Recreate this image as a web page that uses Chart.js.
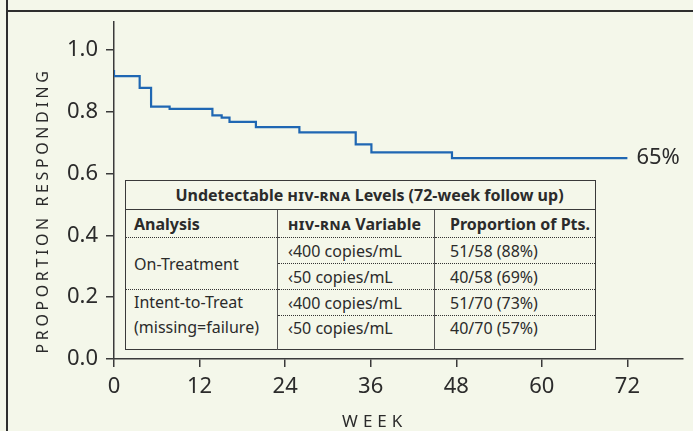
<!DOCTYPE html>
<html>
<head>
<meta charset="utf-8">
<script src="https://cdn.jsdelivr.net/npm/chart.js@4.4.0/dist/chart.umd.min.js"></script>
<style>
  body { margin: 0; background: #f4f7ea; }
  .wrap { position: relative; width: 693px; height: 431px; background: #f4f7ea; overflow: hidden;
          font-family: 'Noto Sans', sans-serif; color: #2b2b2b; }
  .frame-left { position: absolute; left: 6px; top: 0; width: 2px; height: 431px; background: #2e2e2e; }
  .frame-top { position: absolute; left: 6px; top: 10px; width: 687px; height: 2px; background: #2e2e2e; }
  canvas { position: absolute; left: 0; top: 0; }
  table.info { position: absolute; left: 125px; top: 180px; width: 471px; border-collapse: collapse;
               font-size: 16px; color: #2b2b2b; border: 1.5px solid #3a3a3a; background: #f4f7ea; }
  table.info td, table.info th { padding: 0; white-space: nowrap; text-align: left; vertical-align: middle; }
  table.info .sc { font-variant: all-small-caps; letter-spacing: 0.5px; }
  table.info tr.title th { height: 28px; text-align: center; padding-left: 18px; border-bottom: 1.5px solid #3a3a3a; }
  table.info tr.head th { height: 27px; border-bottom: 1px dotted #333; }
  table.info .c1 { width: 143px; padding-left: 8px; border-right: 1.5px solid #555; }
  table.info .c2 { width: 146px; padding-left: 10px; border-right: 1.5px solid #555; }
  table.info .c3 { padding-left: 15px; }
  table.info tr.r td { height: 25px; border-bottom: 1px dotted #333; }
  table.info tr.r.last td { height: 33px; border-bottom: none; vertical-align: top; line-height: 25px; }
  table.info td.multi { vertical-align: top; line-height: 25px; }
</style>
</head>
<body>
<div class="wrap">
  <canvas id="kmChart" width="693" height="431"></canvas>
  <div class="frame-left"></div>
  <div class="frame-top"></div>
  <table class="info" id="infoTable"></table>
</div>
<script>
// step curve
const weeks = [0, 3.6, 5.2, 7.8, 13.8, 15.1, 16.2, 19.9, 26.0, 33.9, 36.1, 47.4, 70.7, 72];
const proportion = [0.935, 0.915, 0.877, 0.816, 0.809, 0.788, 0.781, 0.767, 0.750, 0.733, 0.694, 0.668, 0.650, 0.650];
const endLabel = '65%';

const xTicks = [0, 12, 24, 36, 48, 60, 72];
const yTicks = [0, 0.2, 0.4, 0.6, 0.8, 1.0];
const yTickLabels = ['0.0', '0.2', '0.4', '0.6', '0.8', '1.0'];

// inset table
const tableTitle = ['Undetectable ', 'HIV-RNA', ' Levels (72-week follow up)'];
const tableHeads = ['Analysis', 'HIV-RNA', 'Variable', 'Proportion of Pts.'];
const analyses = [['On-Treatment'], ['Intent-to-Treat', '(missing=failure)']];
const variables = ['‹400 copies/mL', '‹50 copies/mL', '‹400 copies/mL', '‹50 copies/mL'];
const proportions = ['51/58 (88%)', '40/58 (69%)', '51/70 (73%)', '40/70 (57%)'];

const ink = '#2b2b2b';
const axisInk = '#3a3a3a';
const lineBlue = '#1f67b3';

function buildTable() {
    const t = document.getElementById('infoTable');
    let html = '<tr class="title"><th colspan="3">' + tableTitle[0] + '<span class="sc">' + tableTitle[1] + '</span>' + tableTitle[2] + '</th></tr>';
    html += '<tr class="head"><th class="c1">' + tableHeads[0] + '</th><th class="c2"><span class="sc">' + tableHeads[1] + '</span> ' + tableHeads[2] + '</th><th class="c3">' + tableHeads[3] + '</th></tr>';
    for (let i = 0; i < variables.length; i++) {
        const last = i === variables.length - 1;
        html += '<tr class="r' + (last ? ' last' : '') + '">';
        if (i % 2 === 0) {
            const a = analyses[i / 2];
            html += '<td rowspan="2" class="c1' + (a.length > 1 ? ' multi' : '') + '" style="border-bottom:' + (last || i === 2 ? 'none' : '1px dotted #333') + '">' + a.join('<br>') + '</td>';
        }
        html += '<td class="c2">' + variables[i] + '</td><td class="c3">' + proportions[i] + '</td></tr>';
    }
    t.innerHTML = html;
}
buildTable();

const annotations = {
    id: 'annotations',
    afterDraw(chart) {
        const ctx = chart.ctx;
        const xs = chart.scales.x;
        const ys = chart.scales.y;
        const area = chart.chartArea;
        ctx.save();
        ctx.fillStyle = ink;

        // end label next to last point
        const lx = xs.getPixelForValue(weeks[weeks.length - 1]);
        const ly = ys.getPixelForValue(proportion[proportion.length - 1]);
        ctx.font = '22px "Noto Sans"';
        ctx.textAlign = 'left';
        ctx.textBaseline = 'middle';
        ctx.fillText(endLabel, lx + 9, ly);

        // axis titles, letter spaced
        ctx.font = '17px "Noto Sans"';
        ctx.letterSpacing = '5px';
        ctx.textAlign = 'center';
        ctx.fillText('WEEK', (xs.getPixelForValue(xTicks[0]) + xs.getPixelForValue(xTicks[xTicks.length - 1])) / 2 + 4, 422);

        ctx.translate(43, (area.top + area.bottom) / 2 + 20);
        ctx.rotate(-Math.PI / 2);
        ctx.font = '16px "Noto Sans"';
        ctx.letterSpacing = '3.6px';
        ctx.fillText('PROPORTION RESPONDING', 0, 0);
        ctx.restore();
    }
};

const ctx = document.getElementById('kmChart').getContext('2d');
new Chart(ctx, {
    type: 'line',
    data: {
        datasets: [{
            data: weeks.map((w, i) => ({ x: w, y: proportion[i] })),
            borderColor: lineBlue,
            borderWidth: 2.2,
            pointRadius: 0,
            fill: false,
            stepped: 'after'
        }]
    },
    options: {
        responsive: false,
        animation: false,
        layout: { padding: { top: 22, right: 10, left: 0, bottom: 0 } },
        plugins: {
            legend: { display: false },
            tooltip: { enabled: false }
        },
        scales: {
            x: {
                type: 'linear',
                min: 0,
                max: 79.8,
                afterBuildTicks: (scale) => { scale.ticks = xTicks.map(v => ({ value: v })); },
                afterFit: (scale) => { scale.height = 72; },
                border: { display: true, color: axisInk, width: 1.5 },
                grid: { drawOnChartArea: false, drawTicks: true, tickLength: 8, color: axisInk, lineWidth: 1.5 },
                ticks: {
                    color: ink,
                    padding: 7,
                    maxRotation: 0,
                    font: { family: 'Noto Sans', size: 22 }
                }
            },
            y: {
                min: 0,
                max: 1.09,
                afterBuildTicks: (scale) => { scale.ticks = yTicks.map(v => ({ value: v })); },
                afterFit: (scale) => { scale.width = 114; },
                border: { display: true, color: axisInk, width: 1.5 },
                grid: { drawOnChartArea: false, drawTicks: true, tickLength: 8, color: axisInk, lineWidth: 1.5 },
                ticks: {
                    color: ink,
                    padding: 8,
                    font: { family: 'Noto Sans', size: 22 },
                    callback: (v) => yTickLabels[yTicks.indexOf(v)]
                }
            }
        }
    },
    plugins: [annotations]
});
</script>
</body>
</html>
